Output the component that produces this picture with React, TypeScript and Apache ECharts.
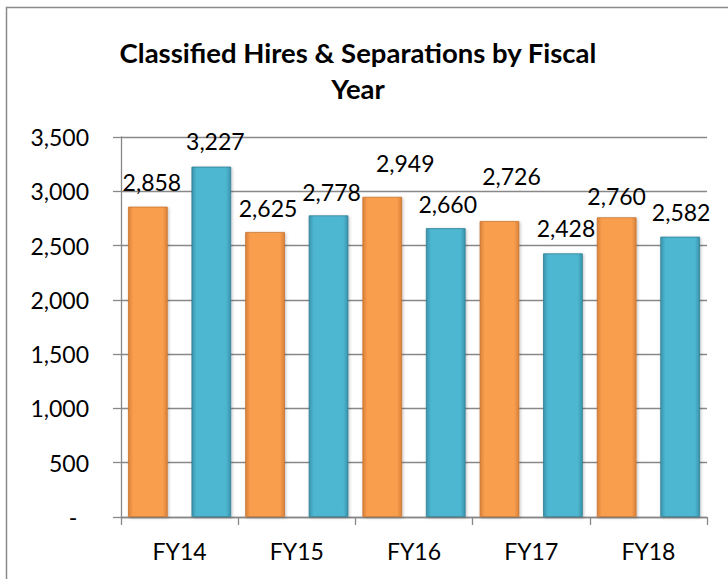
import React, { useEffect, useRef } from "react";
import * as echarts from "echarts";

const categories = ["FY14", "FY15", "FY16", "FY17", "FY18"];
const hires = [2858, 2625, 2949, 2726, 2760];
const separations = [3227, 2778, 2660, 2428, 2582];
const yTicks = { min: 0, max: 3500, interval: 500 };

// label nudges (style only), [dx, dy]
const hiresLabelNudge = [[4, 0], [3, 0], [23, -9], [12, -21], [0, 3]];
const sepLabelNudge = [[4, -1], [3, 1], [2, 0], [3, -1], [1, 0]];

const FONT = "Lato, 'Open Sans', sans-serif";

function fmt(v: number) {
  return v.toLocaleString("en-US");
}

function grad(edge: string, mid: string) {
  return new echarts.graphic.LinearGradient(0, 0, 1, 0, [
    { offset: 0, color: edge },
    { offset: 0.12, color: mid },
    { offset: 0.88, color: mid },
    { offset: 1, color: edge },
  ]);
}

export default function App() {
  const ref = useRef<HTMLDivElement>(null);
  useEffect(() => {
    document.body.style.margin = "0";
    const chart = echarts.init(ref.current!, undefined, { renderer: "svg" });
    const mkData = (vals: number[], nudge: number[][]) =>
      vals.map((v, i) => ({
        value: v,
        label: { offset: nudge[i] },
      }));
    const labelCfg = {
      show: true,
      position: "top" as const,
      distance: 13,
      fontSize: 23,
      fontFamily: FONT,
      color: "#000",
      formatter: (p: any) => fmt(p.value),
    };
    chart.setOption({
      animation: false,
      backgroundColor: "#fff",
      title: {
        text: "Classified Hires & Separations by Fiscal\nYear",
        left: 353,
        top: 29,
        textAlign: "center",
        textStyle: {
          fontFamily: FONT,
          fontWeight: "bold",
          fontSize: 27.5,
          lineHeight: 36,
          color: "#000",
        },
      },
      graphic: [
        {
          type: "rect",
          shape: { x: 6.5, y: 7.5, width: 740, height: 600 },
          style: { fill: "none", stroke: "#8a8a8a", lineWidth: 1.5 },
          silent: true,
          z: -1,
        },
      ],
      grid: { left: 121, right: 21, top: 137, bottom: 62, containLabel: false },
      xAxis: {
        type: "category",
        data: categories,
        axisLine: { lineStyle: { color: "#888", width: 1.3 } },
        axisTick: { show: true, length: 8, alignWithLabel: false, lineStyle: { color: "#888", width: 1.3 } },
        axisLabel: { fontSize: 23, fontFamily: FONT, color: "#000", margin: 22 },
        splitLine: { show: false },
      },
      yAxis: {
        type: "value",
        min: yTicks.min,
        max: yTicks.max,
        interval: yTicks.interval,
        axisLine: { show: true, lineStyle: { color: "#888", width: 1.3 } },
        axisTick: { show: true, length: 8, inside: false, lineStyle: { color: "#888", width: 1.3 } },
        axisLabel: {
          fontSize: 23,
          fontFamily: FONT,
          color: "#000",
          margin: 32,
          formatter: (v: number) => (v === 0 ? "-\u00a0\u00a0" : fmt(v)),
        },
        splitLine: { show: true, lineStyle: { color: "#888", width: 1.3 } },
      },
      series: [
        {
          name: "Hires",
          type: "bar",
          data: mkData(hires, hiresLabelNudge),
          barCategoryGap: "12%",
          barGap: "60%",
          itemStyle: {
            color: grad("#D9823A", "#F99E4E"),
            borderColor: "#C97530",
            borderWidth: 0.8,
            shadowBlur: 3,
            shadowColor: "rgba(0,0,0,0.25)",
            shadowOffsetX: 1,
            shadowOffsetY: 1,
          },
          label: labelCfg,
        },
        {
          name: "Separations",
          type: "bar",
          data: mkData(separations, sepLabelNudge),
          barCategoryGap: "12%",
          barGap: "60%",
          itemStyle: {
            color: grad("#3A94AD", "#4DB6D0"),
            borderColor: "#317F96",
            borderWidth: 0.8,
            shadowBlur: 3,
            shadowColor: "rgba(0,0,0,0.25)",
            shadowOffsetX: 1,
            shadowOffsetY: 1,
          },
          label: labelCfg,
        },
      ],
    });
    return () => chart.dispose();
  }, []);
  return <div ref={ref} style={{ width: 728, height: 579 }} />;
}
